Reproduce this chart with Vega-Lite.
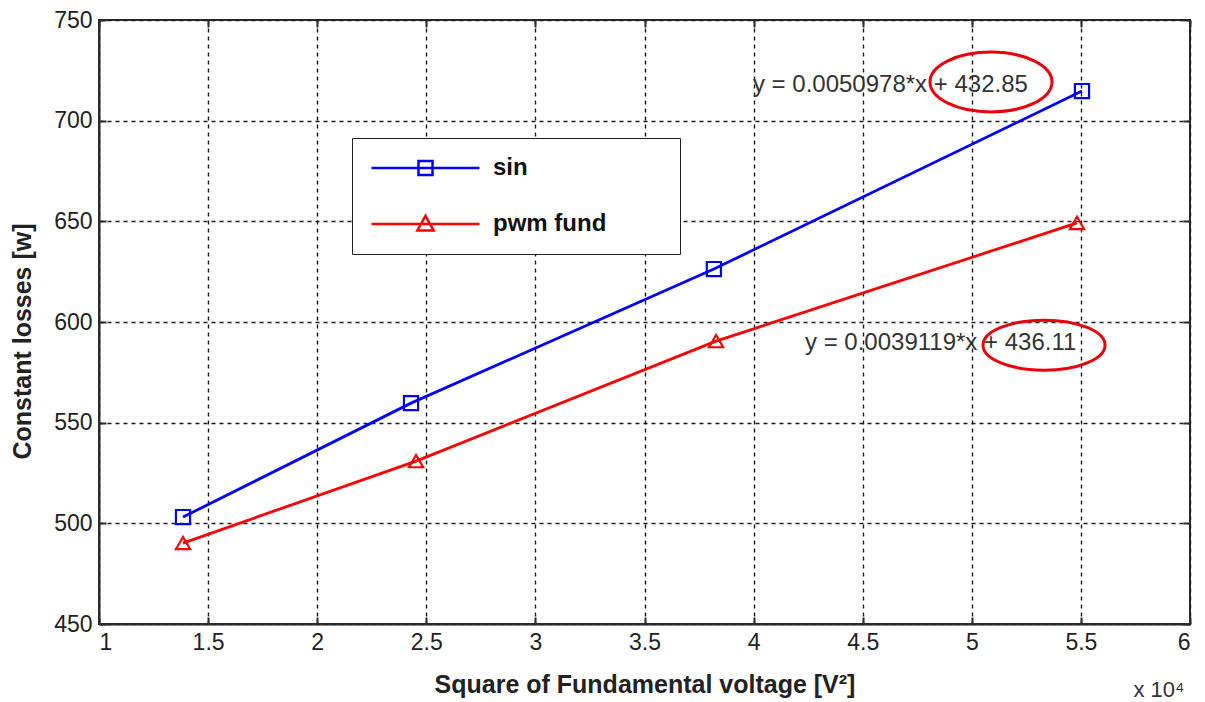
{
  "$schema": "https://vega.github.io/schema/vega-lite/v6.json",
  "width": 1091,
  "height": 604,
  "autosize": {"type": "none"},
  "padding": {"left": 99, "top": 20, "right": 15, "bottom": 78},
  "background": "white",
  "config": {
    "font": "Liberation Sans",
    "view": {"stroke": "#2b2b2b", "strokeWidth": 2},
    "axis": {
      "labelFont": "Liberation Sans",
      "labelFontSize": 23,
      "labelColor": "#222222",
      "titleFont": "Liberation Sans",
      "titleFontSize": 25,
      "titleFontWeight": "bold",
      "titleColor": "#222222",
      "domainColor": "#2b2b2b",
      "domainWidth": 2,
      "tickColor": "#2b2b2b",
      "tickWidth": 2,
      "tickSize": -7,
      "gridColor": "#1a1a1a",
      "gridDash": [4, 4],
      "gridWidth": 1.4,
      "gridOpacity": 1
    },
    "legend": {
      "orient": "none",
      "legendX": 253,
      "legendY": 118,
      "strokeColor": "#222222",
      "fillColor": "white",
      "padding": 18,
      "rowPadding": 29,
      "labelFont": "Liberation Sans",
      "labelFontSize": 24,
      "labelFontWeight": "bold",
      "labelColor": "#111111",
      "labelOffset": 12,
      "labelLimit": 400,
      "symbolSize": 11664,
      "symbolStrokeWidth": 2.5
    }
  },
  "datasets": {
    "pts": [
      {"series": "sin", "v2": 13850, "loss": 503.1},
      {"series": "sin", "v2": 24300, "loss": 559.7},
      {"series": "sin", "v2": 38180, "loss": 626.3},
      {"series": "sin", "v2": 55050, "loss": 714.7},
      {"series": "pwm fund", "v2": 13850, "loss": 490.2},
      {"series": "pwm fund", "v2": 24530, "loss": 530.9},
      {"series": "pwm fund", "v2": 38280, "loss": 590.5},
      {"series": "pwm fund", "v2": 54820, "loss": 649.2}
    ],
    "notes": [
      {"note": "y = 0.0050978*x + 432.85", "v2": 39970, "loss": 717.7},
      {"note": "y = 0.0039119*x + 436.11", "v2": 42355, "loss": 589.5}
    ],
    "rings": [
      {"ring": "a", "v2": 50880, "loss": 719.2},
      {"ring": "b", "v2": 53310, "loss": 588.5}
    ],
    "exp": [
      {"txt": "x 10⁴", "v2": 58580, "loss": 417.2}
    ]
  },
  "resolve": {"scale": {"x": "independent", "y": "independent"}},
  "layer": [
    {
      "layer": [
        {
          "data": {"name": "pts"},
          "mark": {"type": "line", "strokeWidth": 2.8},
          "encoding": {
            "x": {
              "field": "v2", "type": "quantitative",
              "scale": {"domain": [10000, 60000], "nice": false, "zero": false},
              "axis": {
                "orient": "bottom",
                "values": [10000, 15000, 20000, 25000, 30000, 35000, 40000, 45000, 50000, 55000, 60000],
                "labelExpr": "datum.value/10000 + ''",
                "grid": true,
                "labelPadding": 14,
                "title": "Square of Fundamental voltage [V²]",
                "titleY": 60,
                "titleBaseline": "middle"
              }
            },
            "y": {
              "field": "loss", "type": "quantitative",
              "scale": {"domain": [450, 750], "nice": false, "zero": false},
              "axis": {
                "orient": "left",
                "values": [450, 500, 550, 600, 650, 700, 750],
                "grid": true,
                "labelPadding": 14,
                "title": "Constant losses [w]",
                "titleX": -77,
                "titleY": 321,
                "titleBaseline": "middle"
              }
            },
            "color": {
              "field": "series", "type": "nominal",
              "scale": {"domain": ["sin", "pwm fund"], "range": ["#0000ff", "#ff0000"]},
              "legend": {
                "title": null,
                "encode": {
                  "symbols": {
                    "update": {
                      "shape": {"signal": "datum.value === 'sin' ? 'M-1,0H1M-0.13,-0.13H0.13V0.13H-0.13ZM4.28,0' : 'M-1,0H1M0,-0.15L0.15,0.12H-0.15ZM4.28,0'"},
                      "fill": {"value": "transparent"},
                      "strokeWidth": {"value": 2.5},
                      "y": {"value": 12}
                    }
                  },
                  "labels": {
                    "update": {
                      "y": {"value": 12}
                    }
                  }
                }
              }
            }
          }
        },
        {
          "data": {"name": "pts"},
          "transform": [{"filter": "datum.series === 'sin'"}],
          "mark": {"type": "point", "filled": false, "shape": "square", "strokeWidth": 2.2, "size": 200, "opacity": 1, "color": "#0000ff"},
          "encoding": {
            "x": {"field": "v2", "type": "quantitative"},
            "y": {"field": "loss", "type": "quantitative"}
          }
        },
        {
          "data": {"name": "pts"},
          "transform": [{"filter": "datum.series === 'pwm fund'"}],
          "mark": {"type": "point", "filled": false, "shape": "triangle-up", "strokeWidth": 2.2, "size": 200, "opacity": 1, "color": "#ff0000"},
          "encoding": {
            "x": {"field": "v2", "type": "quantitative"},
            "y": {"field": "loss", "type": "quantitative"}
          }
        },
        {
          "data": {"name": "notes"},
          "mark": {"type": "text", "align": "left", "baseline": "middle", "fontSize": 24, "color": "#333333", "font": "Liberation Sans"},
          "encoding": {
            "x": {"field": "v2", "type": "quantitative"},
            "y": {"field": "loss", "type": "quantitative"},
            "text": {"field": "note"}
          }
        },
        {
          "data": {"name": "rings"},
          "transform": [{"filter": "datum.ring === 'a'"}],
          "mark": {"type": "point", "filled": false, "shape": "M-1,0A1,0.49,0,1,1,1,0A1,0.49,0,1,1,-1,0Z", "size": 14884, "strokeWidth": 3, "color": "#e8000b", "opacity": 1},
          "encoding": {
            "x": {"field": "v2", "type": "quantitative"},
            "y": {"field": "loss", "type": "quantitative"}
          }
        },
        {
          "data": {"name": "rings"},
          "transform": [{"filter": "datum.ring === 'b'"}],
          "mark": {"type": "point", "filled": false, "shape": "M-1,0A1,0.41,0,1,1,1,0A1,0.41,0,1,1,-1,0Z", "size": 14884, "strokeWidth": 3, "color": "#e8000b", "opacity": 1},
          "encoding": {
            "x": {"field": "v2", "type": "quantitative"},
            "y": {"field": "loss", "type": "quantitative"}
          }
        },
        {
          "data": {"name": "exp"},
          "mark": {"type": "text", "align": "center", "baseline": "middle", "fontSize": 22, "color": "#333333", "font": "Liberation Sans"},
          "encoding": {
            "x": {"field": "v2", "type": "quantitative"},
            "y": {"field": "loss", "type": "quantitative"},
            "text": {"field": "txt"}
          }
        }
      ]
    },
    {
      "data": {"name": "pts"},
      "mark": {"type": "point", "opacity": 0},
      "encoding": {
        "x": {
          "field": "v2", "type": "quantitative",
          "scale": {"domain": [10000, 60000], "nice": false, "zero": false},
          "axis": {
            "orient": "top",
            "values": [10000, 15000, 20000, 25000, 30000, 35000, 40000, 45000, 50000, 55000, 60000],
            "labels": false, "grid": false, "domain": false, "title": null
          }
        },
        "y": {
          "field": "loss", "type": "quantitative",
          "scale": {"domain": [450, 750], "nice": false, "zero": false},
          "axis": {
            "orient": "right",
            "values": [450, 500, 550, 600, 650, 700, 750],
            "labels": false, "grid": false, "domain": false, "title": null
          }
        }
      }
    }
  ]
}
